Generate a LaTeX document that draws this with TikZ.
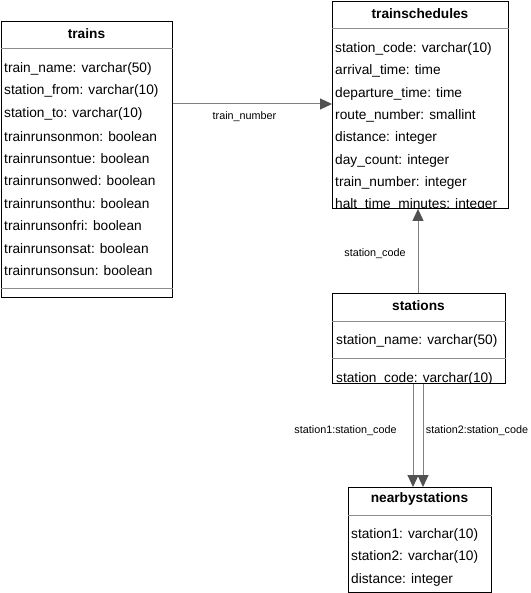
\documentclass[tikz,border=0pt]{standalone}
\usepackage{fontspec}
\setmainfont{Liberation Sans}
\usetikzlibrary{arrows.meta}

\tikzset{
  tbl/.style = {draw=black, line width=0.9pt, anchor=north west, inner sep=0pt},
  ttl/.style = {font=\fontsize{13.7}{16}\selectfont\bfseries, inner sep=0pt},
  row/.style = {font=\fontsize{13.7}{16}\selectfont, anchor=west, inner sep=0pt},
  sep/.style = {draw=black!45, line width=0.8pt},
  link/.style = {draw=black!50, line width=1pt, -{Triangle[length=12pt,width=11pt,color=black!68]}},
  lbl/.style = {font=\fontsize{10.8}{13}\selectfont, inner sep=0pt}
}

\begin{document}
\begin{tikzpicture}[x=1pt, y=-1pt]
  \useasboundingbox (0,0) rectangle (530,593);
  %tables
  \node[tbl, minimum width=171pt, minimum height=276pt] (trains) at (1,21) {};
  \node[tbl, minimum width=176pt, minimum height=207pt] (sched) at (332,1) {};
  \node[tbl, minimum width=173pt, minimum height=90pt] (stations) at (332,293) {};
  \node[tbl, minimum width=143pt, minimum height=105pt] (nearby) at (348,487) {};
  %titles and separators
  \node[ttl] (trains-t) at (86.5,34) {trains};
  \draw[sep] (trains.west |- 0,48) -- (trains.east |- 0,48);
  \draw[sep] (trains.west |- 0,288) -- (trains.east |- 0,288);
  \node[ttl] (sched-t) at (420,13.5) {trainschedules};
  \draw[sep] (sched.west |- 0,28) -- (sched.east |- 0,28);
  \node[ttl] (stations-t) at (418.5,306) {stations};
  \draw[sep] (stations.west |- 0,321) -- (stations.east |- 0,321);
  \draw[sep] (stations.west |- 0,358) -- (stations.east |- 0,358);
  \node[ttl] (nearby-t) at (419.5,499) {nearbystations};
  \draw[sep] (nearby.west |- 0,515) -- (nearby.east |- 0,515);
  %fields
  \foreach \f [count=\i] in {train\_name: varchar(50), station\_from: varchar(10),
      station\_to: varchar(10), trainrunsonmon: boolean, trainrunsontue: boolean,
      trainrunsonwed: boolean, trainrunsonthu: boolean, trainrunsonfri: boolean,
      trainrunsonsat: boolean, trainrunsonsun: boolean}
    \node[row] (trains-\i) at (4,{69+22.4*(\i-1)}) {\f};
  \begin{scope}
    \clip (sched.north west) rectangle (sched.south east);
    \foreach \f [count=\i] in {station\_code: varchar(10), arrival\_time: time,
        departure\_time: time, route\_number: smallint, distance: integer,
        day\_count: integer, train\_number: integer, halt\_time\_minutes: integer}
      \node[row] (sched-\i) at (335,{49+22.3*(\i-1)}) {\f};
  \end{scope}
  \begin{scope}
    \clip (stations.north west) rectangle (stations.south east);
    \node[row] (stations-1) at (336,341) {station\_name: varchar(50)};
    \node[row] (stations-2) at (336,379) {station\_code: varchar(10)};
  \end{scope}
  \foreach \f [count=\i] in {station1: varchar(10), station2: varchar(10), distance: integer}
    \node[row] (nearby-\i) at (351,{535+22.3*(\i-1)}) {\f};
  %references
  \draw[link] (trains.east |- 0,104) -- node[lbl, pos=0.45, below=7pt] {train\_number} (sched.west |- 0,104);
  \draw[link] (stations.north -| 418,0) -- (sched.south -| 418,0);
  \node[lbl] (sc) at (375,254) {station\_code};
  \draw[link] (stations.south -| 413,0) -- (nearby.north -| 413,0);
  \draw[link] (stations.south -| 423,0) -- (nearby.north -| 423,0);
  \node[lbl] (s1) at (345.5,431) {station1:station\_code};
  \node[lbl] (s2) at (477,431) {station2:station\_code};
\end{tikzpicture}
\end{document}
